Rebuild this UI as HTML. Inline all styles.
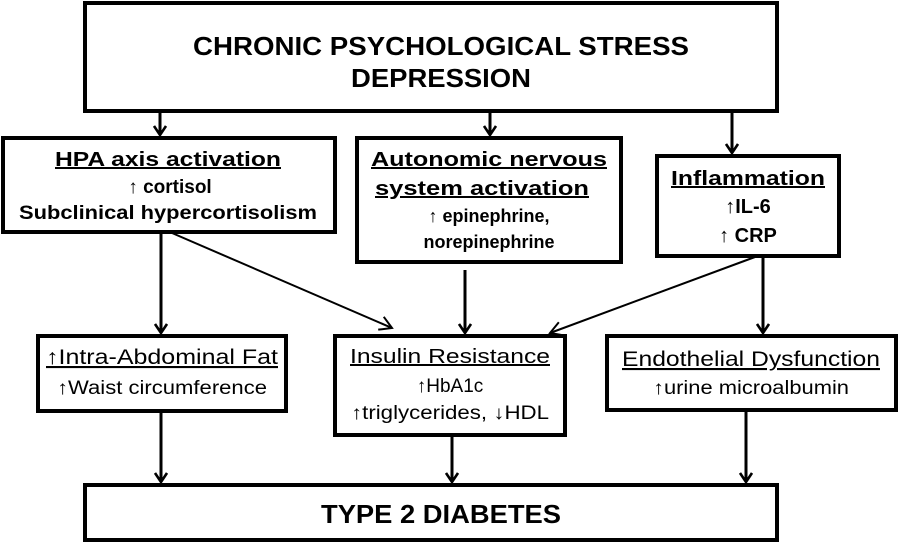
<!DOCTYPE html>
<html><head><meta charset="utf-8"><style>
html,body{margin:0;padding:0;background:#fff;}
svg{display:block;}
text{font-family:"Liberation Sans",Arial,sans-serif;fill:#000;}
.b{font-weight:bold;}
</style></head><body>
<svg width="898" height="544" viewBox="0 0 898 544" xmlns="http://www.w3.org/2000/svg">
<defs>
<marker id="a" viewBox="0 0 14 14" markerWidth="14" markerHeight="14" refX="12" refY="7" orient="auto" markerUnits="userSpaceOnUse">
<path d="M3,1 L12,7 L3,13" fill="none" stroke="#000" stroke-width="2.6"/>
</marker>
<marker id="t" viewBox="0 0 20 20" markerWidth="20" markerHeight="20" refX="18" refY="10" orient="auto" markerUnits="userSpaceOnUse">
<path d="M6,3 L18,10 L6,17" fill="none" stroke="#000" stroke-width="2"/>
</marker>
</defs>
<g fill="none" stroke="#000" stroke-width="4">
<rect x="85" y="3" width="692" height="108"/>
<rect x="3" y="138" width="332" height="94"/>
<rect x="357" y="138" width="264" height="124"/>
<rect x="657" y="156" width="182" height="100"/>
<rect x="38" y="336" width="248" height="75"/>
<rect x="335" y="336" width="230" height="99"/>
<rect x="607" y="336" width="289" height="74"/>
<rect x="85" y="485" width="692" height="55"/>
</g>
<g stroke="#000" stroke-width="3" fill="none">
<line x1="160" y1="111" x2="160" y2="135" marker-end="url(#a)"/>
<line x1="490" y1="111" x2="490" y2="135" marker-end="url(#a)"/>
<line x1="732" y1="111" x2="732" y2="153" marker-end="url(#a)"/>
<line x1="161" y1="232" x2="161" y2="333" marker-end="url(#a)"/>
<line x1="465" y1="270" x2="465" y2="333" marker-end="url(#a)"/>
<line x1="763" y1="256" x2="763" y2="333" marker-end="url(#a)"/>
<line x1="161" y1="411" x2="161" y2="482" marker-end="url(#a)"/>
<line x1="452" y1="435" x2="452" y2="482" marker-end="url(#a)"/>
<line x1="746" y1="410" x2="746" y2="482" marker-end="url(#a)"/>
</g>
<g stroke="#000" stroke-width="2" fill="none">
<line x1="172" y1="233" x2="392" y2="328" marker-end="url(#t)"/>
<line x1="755" y1="257" x2="550" y2="333" marker-end="url(#t)"/>
</g>
<text class="b" x="441" y="55" font-size="26" text-anchor="middle" textLength="496" lengthAdjust="spacingAndGlyphs">CHRONIC PSYCHOLOGICAL STRESS</text>
<text class="b" x="441" y="87" font-size="26" text-anchor="middle" textLength="180" lengthAdjust="spacingAndGlyphs">DEPRESSION</text>

<text class="b" x="168" y="166" font-size="20" text-anchor="middle" text-decoration="underline" textLength="226" lengthAdjust="spacingAndGlyphs">HPA axis activation</text>
<text class="b" x="170" y="193" font-size="19" text-anchor="middle">↑ cortisol</text>
<text class="b" x="168" y="219" font-size="19" text-anchor="middle" textLength="298" lengthAdjust="spacingAndGlyphs">Subclinical hypercortisolism</text>

<text class="b" x="489" y="166" font-size="20" text-anchor="middle" text-decoration="underline" textLength="236" lengthAdjust="spacingAndGlyphs">Autonomic nervous</text>
<text class="b" x="482" y="195" font-size="20" text-anchor="middle" text-decoration="underline" textLength="214" lengthAdjust="spacingAndGlyphs">system activation</text>
<text class="b" x="489" y="222" font-size="18" text-anchor="middle">↑ epinephrine,</text>
<text class="b" x="489" y="248" font-size="18" text-anchor="middle">norepinephrine</text>

<text class="b" x="748" y="185" font-size="20" text-anchor="middle" text-decoration="underline" textLength="154" lengthAdjust="spacingAndGlyphs">Inflammation</text>
<text class="b" x="748" y="213" font-size="20" text-anchor="middle">↑IL-6</text>
<text class="b" x="748" y="242" font-size="20" text-anchor="middle">↑ CRP</text>

<text x="162" y="364" font-size="21" text-anchor="middle" text-decoration="underline" textLength="232" lengthAdjust="spacingAndGlyphs">↑Intra-Abdominal Fat</text>
<text x="162" y="394" font-size="19" text-anchor="middle" textLength="210" lengthAdjust="spacingAndGlyphs">↑Waist circumference</text>

<text x="450" y="363" font-size="20" text-anchor="middle" text-decoration="underline" textLength="200" lengthAdjust="spacingAndGlyphs">Insulin Resistance</text>
<text x="450" y="392" font-size="19" text-anchor="middle">↑HbA1c</text>
<text x="450" y="419" font-size="19" text-anchor="middle" textLength="198" lengthAdjust="spacingAndGlyphs">↑triglycerides, ↓HDL</text>

<text x="751" y="366" font-size="21" text-anchor="middle" text-decoration="underline" textLength="258" lengthAdjust="spacingAndGlyphs">Endothelial Dysfunction</text>
<text x="751" y="394" font-size="19" text-anchor="middle" textLength="196" lengthAdjust="spacingAndGlyphs">↑urine microalbumin</text>

<text class="b" x="441" y="523" font-size="26" text-anchor="middle" textLength="240" lengthAdjust="spacingAndGlyphs">TYPE 2 DIABETES</text>
</svg>
</body></html>
